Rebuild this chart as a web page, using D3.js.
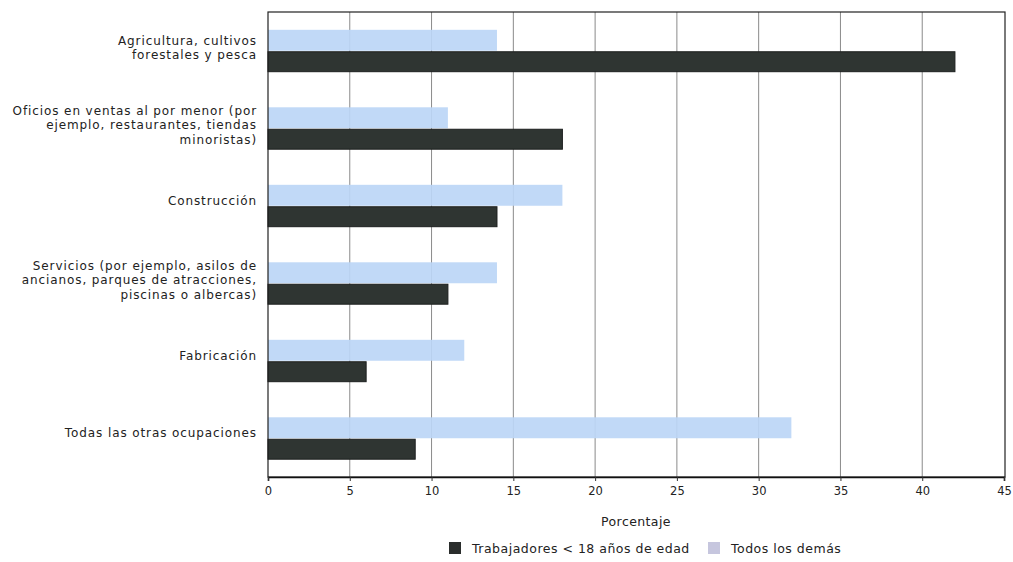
<!DOCTYPE html>
<html>
<head>
<meta charset="utf-8">
<script src="https://cdn.jsdelivr.net/npm/d3@7"></script>
<style>
  body { margin: 0; background: #fff; }
  text { font-family: "DejaVu Sans", sans-serif; fill: #222; }
</style>
</head>
<body>
<svg id="chart" width="1013" height="562"></svg>
<script>
// categories, one array of lines per label
var categories = [
  ["Agricultura, cultivos", "forestales y pesca"],
  ["Oficios en ventas al por menor (por", "ejemplo, restaurantes, tiendas", "minoristas)"],
  ["Construcción"],
  ["Servicios (por ejemplo, asilos de", "ancianos, parques de atracciones,", "piscinas o albercas)"],
  ["Fabricación"],
  ["Todas las otras ocupaciones"]
];
var menores = [42, 18, 14, 11, 6, 9];      // Trabajadores < 18 años de edad
var demas = [14, 11, 18, 14, 12, 32];      // Todos los demás
var xTicks = [0, 5, 10, 15, 20, 25, 30, 35, 40, 45];
var seriesNames = ["Trabajadores < 18 años de edad", "Todos los demás"];

var svg = d3.select("#chart");
var plotLeft = 268, plotRight = 1004, plotTop = 12, plotBottom = 477;

var x = d3.scaleLinear().domain([0, 45]).range([plotLeft, plotRight]);
var y = d3.scaleBand().domain(d3.range(categories.length)).range([plotTop, plotBottom]);
var inner = d3.scaleBand().domain(["demas", "menores"]).range([0, y.bandwidth()])
  .paddingOuter(0.85).paddingInner(0);

// grid
svg.append("g").selectAll("line").data(xTicks.slice(1, -1)).enter().append("line")
  .attr("x1", function(d) { return x(d); }).attr("x2", function(d) { return x(d); })
  .attr("y1", plotTop).attr("y2", plotBottom)
  .attr("stroke", "#8a8a8a").attr("stroke-width", 1);

// bars
var rows = svg.append("g").selectAll("g").data(categories).enter().append("g")
  .attr("transform", function(d, i) { return "translate(0," + y(i) + ")"; });

rows.append("rect")
  .attr("x", x(0)).attr("y", inner("demas"))
  .attr("width", function(d, i) { return x(demas[i]) - x(0); })
  .attr("height", inner.bandwidth())
  .attr("fill", "#bcd6f6").attr("fill-opacity", 0.92);

rows.append("rect")
  .attr("x", x(0)).attr("y", inner("menores") + 1)
  .attr("width", function(d, i) { return x(menores[i]) - x(0); })
  .attr("height", inner.bandwidth() - 1)
  .attr("fill", "#2f3532").attr("stroke", "#1c1f1e").attr("stroke-width", 1);

// category labels
rows.each(function(lines) {
  var lh = 14.5;
  var shift = lines.length > 1 ? -3 : -5;
  var t = d3.select(this).append("text")
    .attr("text-anchor", "end")
    .attr("font-size", "12px")
    .attr("letter-spacing", "0.9px")
    .attr("dominant-baseline", "central");
  lines.forEach(function(l, k) {
    t.append("tspan").attr("x", plotLeft - 11)
      .attr("y", y.bandwidth() / 2 + shift + (k - (lines.length - 1) / 2) * lh)
      .text(l);
  });
});

// frame
svg.append("rect").attr("x", plotLeft).attr("y", plotTop)
  .attr("width", plotRight + 1 - plotLeft).attr("height", plotBottom - plotTop)
  .attr("fill", "none").attr("stroke", "#222").attr("stroke-width", 1.2);

// x axis
var axis = svg.append("g").attr("transform", "translate(0," + plotBottom + ")")
  .call(d3.axisBottom(x).tickValues(xTicks).tickSize(4).tickPadding(6));
axis.select(".domain").attr("stroke", "#111").attr("stroke-width", 1.6);
axis.selectAll(".tick line").attr("stroke", "#333");
axis.selectAll(".tick text").attr("font-size", "11.5px")
  .attr("font-family", "DejaVu Sans, sans-serif").attr("fill", "#333");

svg.append("text").attr("x", 636).attr("y", 521)
  .attr("text-anchor", "middle").attr("dominant-baseline", "central")
  .attr("font-size", "12.5px").attr("letter-spacing", "0.4px").text("Porcentaje");

// legend
var legendColors = ["#2a2d2c", "#c6c6de"];
var legendX = [449, 708];
var leg = svg.append("g").selectAll("g").data(seriesNames).enter().append("g")
  .attr("transform", function(d, i) { return "translate(" + legendX[i] + ",548)"; });
leg.append("rect").attr("x", 0).attr("y", -6).attr("width", 12).attr("height", 12)
  .attr("fill", function(d, i) { return legendColors[i]; });
leg.append("text").attr("x", 23).attr("y", 0)
  .attr("dominant-baseline", "central").attr("font-size", "12.5px")
  .attr("letter-spacing", "0.5px")
  .text(function(d) { return d; });
</script>
</body>
</html>
